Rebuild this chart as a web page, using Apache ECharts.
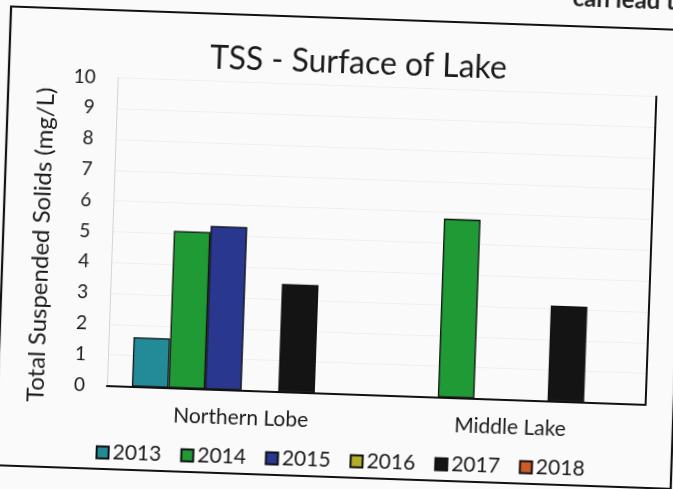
<!DOCTYPE html>
<html>
<head>
<meta charset="utf-8">
<script src="https://cdn.jsdelivr.net/npm/echarts@6/dist/echarts.min.js"></script>
<style>
  html, body { margin: 0; padding: 0; width: 673px; height: 489px; overflow: hidden; background: #fafafa; }
  /* the printed page sits slightly askew, so the whole figure is turned a little */
  #wrap { position: absolute; left: -20px; top: -20px; width: 713px; height: 529px;
          transform: rotate(2deg); transform-origin: 356.5px 264.5px; }
  #chart { width: 713px; height: 529px; }
</style>
</head>
<body>
<div id="wrap"><div id="chart"></div></div>
<script>
// Sampling sites and years
const categories = ['Northern Lobe', 'Middle Lake'];
const years = ['2013', '2014', '2015', '2016', '2017', '2018'];

// Total suspended solids at the lake surface (mg/L), one value per site
const tss2013 = [1.6, null];
const tss2014 = [5.1, 5.8];
const tss2015 = [5.3, null];
const tss2016 = [null, null];
const tss2017 = [3.5, 3.1];
const tss2018 = [null, null];

const yTicks = [0, 1, 2, 3, 4, 5, 6, 7, 8, 9, 10];

const seriesValues = [tss2013, tss2014, tss2015, tss2016, tss2017, tss2018];
const yearColors = ['#238b98', '#1f9a35', '#29378f', '#b3ad2c', '#141414', '#cf5c26'];

const FONT = 'Lato, "Open Sans", sans-serif';
const INK = '#1a1a1a';

const chart = echarts.init(document.getElementById('chart'), null, { renderer: 'canvas' });

chart.setOption({
  backgroundColor: '#fafafa',
  animation: false,
  textStyle: { fontFamily: FONT, color: INK },
  title: {
    text: 'TSS - Surface of Lake',
    left: 367,
    textAlign: 'center',
    top: 62,
    textStyle: { fontFamily: FONT, fontSize: 32, fontWeight: 'normal', color: INK }
  },
  legend: {
    data: years,
    left: 118,
    top: 465,
    itemWidth: 12,
    itemHeight: 12,
    itemGap: 19,
    icon: 'rect',
    textStyle: { fontFamily: FONT, fontSize: 21, color: INK, padding: [0, 0, 0, -1] }
  },
  grid: { left: 132, right: 42, top: 105.5, bottom: 115.5, containLabel: false },
  xAxis: [
    {
      type: 'category',
      data: categories,
      axisLine: { lineStyle: { color: '#bdbdbd', width: 1 } },
      axisTick: { show: false },
      axisLabel: { fontFamily: FONT, fontSize: 21, color: INK, margin: 17 }
    },
    {
      type: 'category',
      data: categories,
      position: 'top',
      axisLine: { lineStyle: { color: '#111', width: 2 } },
      axisTick: { show: false },
      axisLabel: { show: false }
    }
  ],
  yAxis: [
    {
      type: 'value',
      min: yTicks[0],
      max: yTicks[yTicks.length - 1],
      interval: 1,
      name: 'Total Suspended Solids (mg/L)',
      nameLocation: 'middle',
      nameRotate: 90,
      nameGap: 59,
      nameTextStyle: { fontFamily: FONT, fontSize: 24, color: INK, padding: [0, 31, 0, 0] },
      axisLine: { show: true, lineStyle: { color: '#d4d4d4', width: 1 } },
      axisTick: { show: false },
      axisLabel: { fontFamily: FONT, fontSize: 19, color: INK, margin: 22 },
      splitLine: { show: true, lineStyle: { color: '#efefef', width: 1 } }
    },
    {
      type: 'value',
      position: 'right',
      min: yTicks[0],
      max: yTicks[yTicks.length - 1],
      axisLine: { show: true, lineStyle: { color: '#111', width: 2 } },
      axisTick: { show: false },
      axisLabel: { show: false },
      splitLine: { show: false }
    }
  ],
  graphic: [
    {
      // outer frame of the figure
      type: 'rect',
      shape: { x: 23, y: 38, width: 676, height: 459 },
      style: { fill: null, stroke: '#111', lineWidth: 2.2 },
      silent: true
    },
    {
      // running text of the page above the figure
      type: 'text',
      left: 584,
      top: -2,
      style: { text: 'can lead to', font: 'bold 24px ' + FONT, fill: '#222' },
      silent: true
    }
  ],
  series: years.map((y, i) => ({
    name: y,
    type: 'bar',
    xAxisIndex: 0,
    yAxisIndex: 0,
    data: seriesValues[i],
    barGap: '0%',
    barCategoryGap: '18.5%',
    itemStyle: { color: yearColors[i], borderColor: '#111', borderWidth: 1.3 }
  }))
});
</script>
</body>
</html>
